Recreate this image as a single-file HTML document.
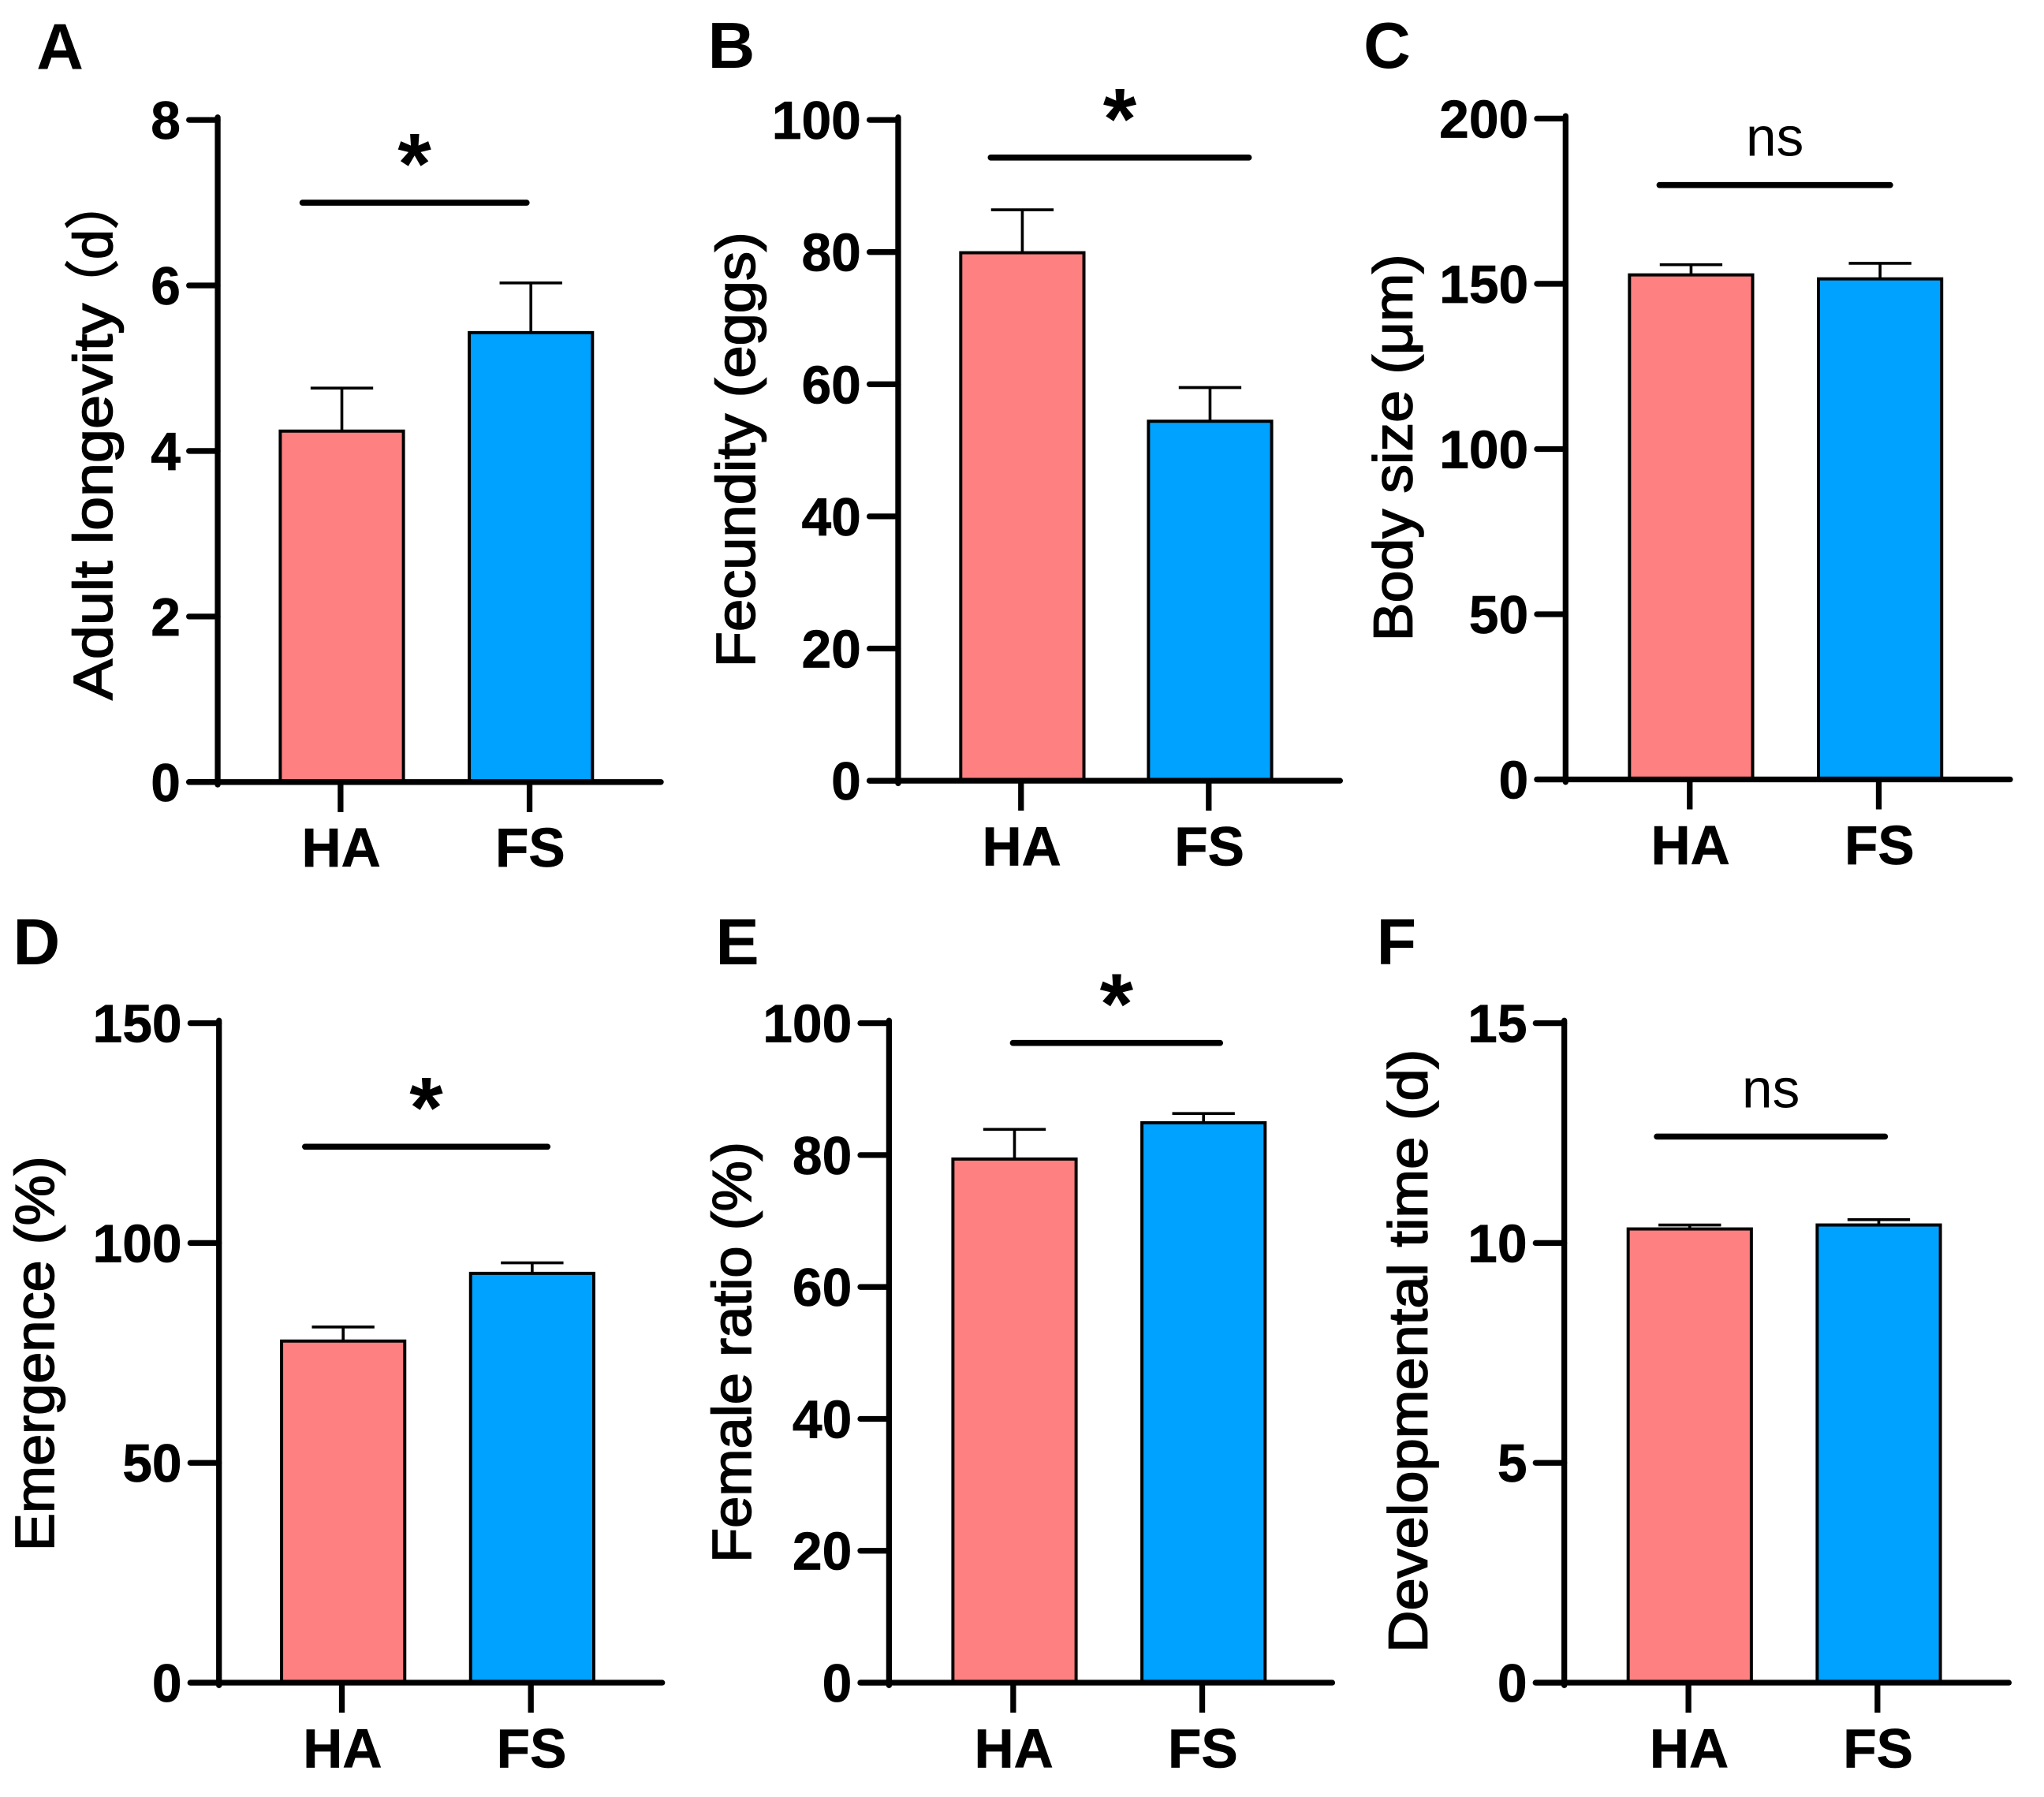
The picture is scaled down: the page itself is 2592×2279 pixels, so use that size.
<!DOCTYPE html>
<html lang="en">
<head>
<meta charset="utf-8">
<title>Six bar chart panels comparing HA and FS</title>
<style>
html,body{margin:0;padding:0;background:#fff;}
svg{display:block;width:2592px;height:2279px;}
text{font-family:"Liberation Sans","Noto Sans CJK SC",sans-serif;fill:#000;}
</style>
</head>
<body>
<svg id="figure" xmlns="http://www.w3.org/2000/svg" viewBox="0 0 1568 1378.7" preserveAspectRatio="none"></svg>
<script>
const categories = ['HA', 'FS'];

const ticksA = [0, 2, 4, 6, 8];
const meansA = [4.24, 5.43];
const errorsA = [0.52, 0.60];
const sigA = 7.0;

const ticksB = [0, 20, 40, 60, 80, 100];
const meansB = [79.9, 54.4];
const errorsB = [6.5, 5.1];
const sigB = 94.3;

const ticksC = [0, 50, 100, 150, 200];
const meansC = [152.7, 151.5];
const errorsC = [3.1, 4.7];
const sigC = 179.9;

const ticksD = [0, 50, 100, 150];
const meansD = [77.7, 93.1];
const errorsD = [3.2, 2.4];
const sigD = 121.9;

const ticksE = [0, 20, 40, 60, 80, 100];
const meansE = [79.4, 84.9];
const errorsE = [4.5, 1.4];
const sigE = 97.0;

const ticksF = [0, 5, 10, 15];
const meansF = [10.32, 10.41];
const errorsF = [0.09, 0.12];
const sigF = 12.42;

const panels = [
  {id:'a', letter:'A', lx:28, ly:54, title:'Adult longevity', tx:86, t0:233, t1:537,
   suffix:'（d）', s0:135, s1:240,
   ax:167, top:92, y0:600, end:507, bars:[215,360], sigSpan:[232,404], mark:'*',
   ticks:ticksA, means:meansA, errors:errorsA, sig:sigA},
  {id:'b', letter:'B', lx:543, ly:53, title:'Fecundity (eggs)', tx:579, t0:178, t1:512,
   ax:689, top:92, y0:599, end:1028, bars:[737,881], sigSpan:[760,958], mark:'*',
   ticks:ticksB, means:meansB, errors:errorsB, sig:sigB},
  {id:'c', letter:'C', lx:1046, ly:53, title:'Body size (μm)', tx:1083, t0:195, t1:492,
   ax:1201, top:91, y0:598, end:1542, bars:[1250,1395], sigSpan:[1273,1450], mark:'ns',
   ticks:ticksC, means:meansC, errors:errorsC, sig:sigC},
  {id:'d', letter:'D', lx:10, ly:741, title:'Emergence (%)', tx:41, t0:887, t1:1190,
   ax:168, top:785, y0:1291, end:508, bars:[216,361], sigSpan:[234,420], mark:'*',
   ticks:ticksD, means:meansD, errors:errorsD, sig:sigD},
  {id:'e', letter:'E', lx:549, ly:741, title:'Female ratio (%)', tx:576, t0:876, t1:1199,
   ax:682, top:785, y0:1291, end:1022, bars:[731,876], sigSpan:[777,936], mark:'*',
   ticks:ticksE, means:meansE, errors:errorsE, sig:sigE},
  {id:'f', letter:'F', lx:1056, ly:741, title:'Developmental time (d)', tx:1094.5, t0:805, t1:1268,
   ax:1200, top:785, y0:1291, end:1541, bars:[1249,1394], sigSpan:[1271,1446], mark:'ns',
   ticks:ticksF, means:meansF, errors:errorsF, sig:sigF}
];

const SVG_NS = 'http://www.w3.org/2000/svg';
const figure = document.getElementById('figure');
const BAR_W = 94.5;
const CAP = 24;
const COLORS = ['#FF8080', '#00A2FF'];

function line(parent, x1, y1, x2, y2, width, cap) {
  const el = document.createElementNS(SVG_NS, 'line');
  el.setAttribute('x1', x1);
  el.setAttribute('y1', y1);
  el.setAttribute('x2', x2);
  el.setAttribute('y2', y2);
  el.setAttribute('stroke', '#000');
  el.setAttribute('stroke-width', width);
  el.setAttribute('stroke-linecap', cap || 'butt');
  parent.appendChild(el);
  return el;
}

function label(parent, x, y, str, size, weight, anchor) {
  const el = document.createElementNS(SVG_NS, 'text');
  el.setAttribute('x', x);
  el.setAttribute('y', y);
  el.setAttribute('font-size', size);
  el.setAttribute('font-weight', weight);
  el.setAttribute('text-anchor', anchor);
  el.textContent = str;
  parent.appendChild(el);
  return el;
}

panels.forEach(function (p) {
  const g = document.createElementNS(SVG_NS, 'g');
  
  
  figure.appendChild(g);

  const maxTick = p.ticks[p.ticks.length - 1];
  const yScale = function (v) { return p.y0 - (v / maxTick) * (p.y0 - p.top); };

  const letter = label(g, p.lx, p.ly - 1, p.letter, 50, 'bold', 'start');
  
  

  const tm = (p.t0 + p.t1) / 2;
  const title = label(g, 0, 0, p.title, 42, 'normal', 'middle');
  title.setAttribute('transform', 'translate(' + p.tx + ' ' + tm + ') rotate(-90)');
  title.setAttribute('textLength', p.t1 - p.t0);
  title.setAttribute('lengthAdjust', 'spacingAndGlyphs');
  title.setAttribute('stroke', '#000');
  title.setAttribute('stroke-width', '1');
  
  

  if (p.suffix) {
    const suffix = label(g, 0, 0, p.suffix, 42, 'normal', 'start');
    suffix.setAttribute('transform', 'translate(' + p.tx + ' ' + p.s1 + ') rotate(-90)');
    suffix.setAttribute('textLength', p.s1 - p.s0);
    suffix.setAttribute('lengthAdjust', 'spacingAndGlyphs');
    suffix.setAttribute('stroke', '#000');
    suffix.setAttribute('stroke-width', '1');
    
    
  }

  categories.forEach(function (cat, i) {
    const x = p.bars[i];
    const cx = x + BAR_W / 2;
    const barTop = yScale(p.means[i]);
    const errTop = yScale(p.means[i] + p.errors[i]);

    const stem = line(g, cx, barTop, cx, errTop, 2.2);
    
    

    const cap = line(g, cx - CAP, errTop, cx + CAP, errTop, 2.2);
    
    

    const bar = document.createElementNS(SVG_NS, 'rect');
    bar.setAttribute('x', x);
    bar.setAttribute('y', barTop);
    bar.setAttribute('width', BAR_W);
    bar.setAttribute('height', p.y0 - barTop);
    bar.setAttribute('fill', COLORS[i]);
    bar.setAttribute('stroke', '#000');
    bar.setAttribute('stroke-width', '2.4');
    
    
    g.appendChild(bar);

    const xt = line(g, cx - 1, p.y0, cx - 1, p.y0 + 23, 4.4);
    
    

    const xl = label(g, cx - 0.5, p.y0 + 65, cat, 42, 'bold', 'middle');
    xl.setAttribute('stroke', '#000');
    xl.setAttribute('stroke-width', '0.4');
    
    
  });

  const yAxis = line(g, p.ax, p.top - 2, p.ax, p.y0 + 2, 4.4, 'round');
  
  

  const xAxis = line(g, p.ax - 22, p.y0, p.end, p.y0, 4.4, 'round');
  
  

  p.ticks.forEach(function (t) {
    const y = yScale(t);
    const tk = line(g, p.ax - 22, y, p.ax, y, 4.4, 'round');
    
    

    const tl = label(g, p.ax - 28.5, y + 14.5, String(t), 41, 'bold', 'end');
    tl.setAttribute('stroke', '#000');
    tl.setAttribute('stroke-width', '0.4');
    
    
  });

  const sy = yScale(p.sig);
  const sigLine = line(g, p.sigSpan[0], sy, p.sigSpan[1], sy, 4.6, 'round');
  
  

  const mx = (p.sigSpan[0] + p.sigSpan[1]) / 2;
  let mark;
  if (p.mark === '*') {
    mark = label(g, mx, sy - 7, '*', 66, 'bold', 'middle');
  } else {
    mark = label(g, mx, sy - 22.5, 'ns', 42, 'normal', 'middle');
  }
  
  
});
</script>
</body>
</html>
